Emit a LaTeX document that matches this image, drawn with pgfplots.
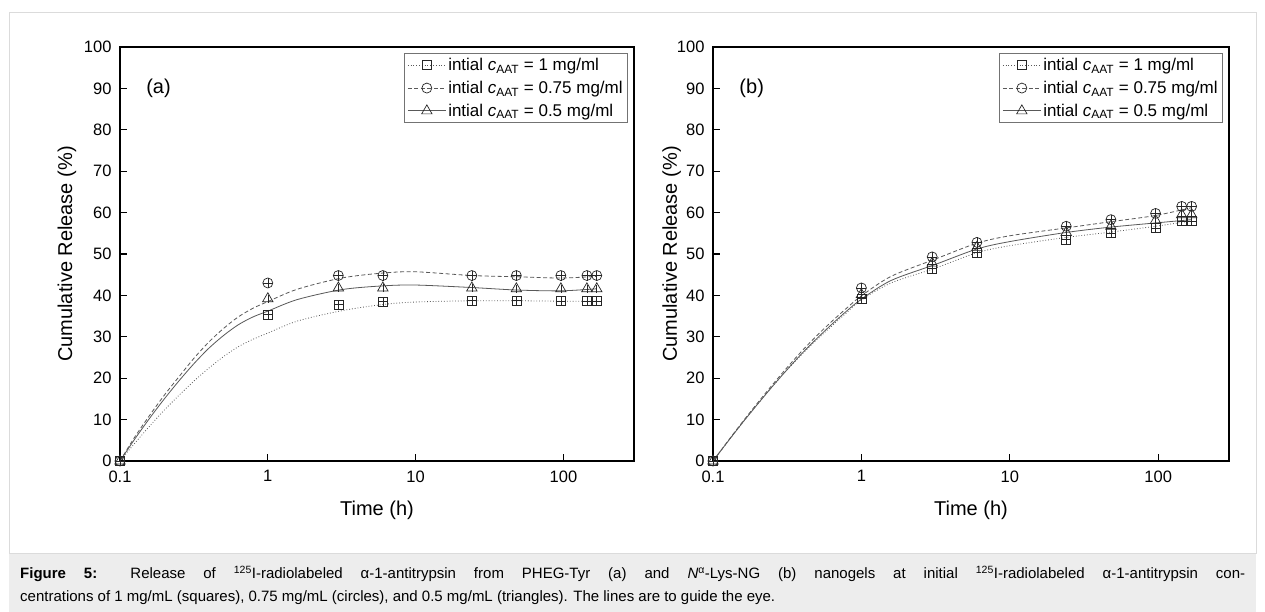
\documentclass[border=0pt]{standalone}
\usepackage{fontspec}
\setmainfont{Liberation Sans}
\usepackage{pgfplots}
\usepackage{pgfplotstable}
\pgfplotsset{compat=1.18}

% ---------- panel (a): measured points ----------
\pgfplotstableread{
x     c1    c075  c05
0.1   0     0     0
1     35.4  43.0  39.2
3     37.8  44.8  41.8
6     38.5  44.8  41.8
24    38.7  44.8  41.8
48    38.7  44.8  41.6
96    38.6  44.8  41.6
144   38.6  44.8  41.6
168   38.6  44.8  41.6
}\ptsA
% ---------- panel (a): guide lines ----------
\pgfplotstableread{
x       c1    c075  c05
0.1     0     0     0
0.1259  4.3   5.8   5.3
0.1585  8.4   11.0  10.3
0.1995  12.3  15.9  15.0
0.2512  15.9  20.4  19.4
0.3162  19.3  24.8  23.5
0.3981  22.4  28.7  27.2
0.5012  25.2  32.0  30.3
0.631   27.6  34.8  32.9
0.7943  29.4  36.9  34.8
1       30.9  38.5  36.2
1.585   33.8  41.5  39.0
3.162   36.3  44.2  41.4
6       37.8  45.4  42.3
10      38.4  45.7  42.5
24      38.7  44.8  41.9
48      38.7  44.5  41.3
96      38.6  44.2  41.1
168     38.6  44.6  41.6
}\lnA
% ---------- panel (b): measured points ----------
\pgfplotstableread{
x     c1    c075  c05
0.1   0     0     0
1     39.2  41.8  40.2
3     46.5  49.3  47.8
6     50.3  52.8  51.6
24    53.5  56.7  55.2
48    55.1  58.3  56.7
96    56.2  59.8  58.1
144   58.0  61.5  59.5
168   58.0  61.5  59.5
}\ptsB
% ---------- panel (b): guide lines ----------
\pgfplotstableread{
x       c1    c075  c05
0.1     0     0     0
0.1259  4.7   4.8   4.7
0.1585  9.3   9.5   9.3
0.1995  13.7  14.0  13.7
0.2512  18.0  18.4  18.0
0.3162  22.0  22.6  22.1
0.3981  25.8  26.6  26.0
0.5012  29.3  30.3  29.6
0.631   32.6  33.7  33.0
0.7943  35.8  36.9  36.2
1       38.9  39.9  39.1
1.585   43.0  44.6  43.6
3.162   46.6  48.8  47.5
6       50.3  52.6  51.2
10      52.0  54.4  53.0
24      54.0  56.3  55.2
48      55.3  57.8  56.5
96      56.7  59.3  57.5
168     58.0  61.2  58.3
}\lnB

\tikzset{
  lsq/.style={color=black!65, line width=0.8pt, dash pattern=on 0.8pt off 2pt},
  lci/.style={color=black!65, line width=0.8pt, dash pattern=on 4pt off 2.5pt},
  ltr/.style={color=black!65, line width=0.8pt, solid},
  mopt/.style={solid, draw=black!85, fill=white, line width=0.7pt},
  popt/.style={solid, draw=black!85, line width=0.6pt},
}

\begin{document}
\begin{tikzpicture}
\path[use as bounding box] (0pt,0pt) rectangle (1265pt,612pt);
\fill[white] (0pt,0pt) rectangle (1265pt,612pt);
\fill[black!7] (9pt,0pt) rectangle (1256pt,58pt);
\draw[black!14, line width=1pt] (9pt,58pt) rectangle (1256pt,599pt);

% ---------------- panel (a) ----------------
\begin{axis}[
    width=514pt, at={(120pt,151pt)}, anchor=south west,
    xmode=log, xmin=0.1, xmax=300, ymin=0, ymax=100,
    scale only axis, height=414pt,
    xtick={0.1,1,10,100}, xticklabels={0.1,1,10,100},
    xminorticks=false, yminorticks=false,
    ytick={0,10,20,30,40,50,60,70,80,90,100},
    tick align=inside, xtick pos=left, ytick pos=left,
    major tick length=7pt,
    major tick style={black, line width=1.2pt},
    axis line style={black, line width=1.3pt},
    /pgf/number format/assume math mode=true,
    tick label style={font=\fontsize{16.5}{19}\selectfont},
    yticklabel style={xshift=-5pt},
    xticklabel style={yshift=-6pt},
    label style={font=\fontsize{20}{24}\selectfont},
    xlabel={Time (h)}, ylabel={Cumulative Release (\%)},
    x label style={at={(axis description cs:0.5,-0.12)},anchor=center},
    y label style={at={(axis description cs:-0.103,0.5)},anchor=center},
    legend style={at={(1,1)}, anchor=north east, xshift=-6pt, yshift=-6pt,
      draw=black!55, line width=0.7pt, font=\fontsize{17}{20}\selectfont,
      inner xsep=3pt, inner ysep=3pt, row sep=5pt},
    legend cell align=left,
    legend image code/.code={\draw[mark repeat=2,mark phase=2] plot coordinates {(0pt,0pt)(19pt,0pt)(38pt,0pt)};},
]
\addlegendimage{lsq, mark=square, mark size=4.5pt, mark options={mopt}}
\addlegendentry{intial \textit{c}\textsubscript{AAT} = 1 mg/ml}
\addlegendimage{lci, mark=o, mark size=5pt, mark options={mopt}}
\addlegendentry{intial \textit{c}\textsubscript{AAT} = 0.75 mg/ml}
\addlegendimage{ltr, mark=triangle, mark size=6pt, mark options={mopt}}
\addlegendentry{intial \textit{c}\textsubscript{AAT} = 0.5 mg/ml}
\addplot[lsq, smooth, tension=0.5, forget plot] table[x=x,y=c1] {\lnA};
\addplot[lci, smooth, tension=0.5, forget plot] table[x=x,y=c075] {\lnA};
\addplot[ltr, smooth, tension=0.5, forget plot] table[x=x,y=c05] {\lnA};
\addplot[only marks, mark=square, mark size=4.5pt, mark options={mopt}, forget plot] table[x=x,y=c1] {\ptsA};
\addplot[only marks, mark=+, mark size=4.5pt, mark options={popt}, forget plot] table[x=x,y=c1] {\ptsA};
\addplot[only marks, mark=o, mark size=5pt, mark options={mopt}, forget plot] table[x=x,y=c075] {\ptsA};
\addplot[only marks, mark=+, mark size=5pt, mark options={popt}, forget plot] table[x=x,y=c075] {\ptsA};
\addplot[only marks, mark=triangle, mark size=6pt, mark options={mopt}, forget plot] table[x=x,y=c05] {\ptsA};
\addplot[only marks, mark=|, mark size=4pt, mark options={popt}, forget plot] table[x=x,y=c05] {\ptsA};
\node[font=\fontsize{20}{24}\selectfont, anchor=center] at (rel axis cs:0.075,0.9) {(a)};
\end{axis}

% ---------------- panel (b) ----------------
\begin{axis}[
    width=516pt, at={(713pt,151pt)}, anchor=south west,
    xmode=log, xmin=0.1, xmax=300, ymin=0, ymax=100,
    scale only axis, height=414pt,
    xtick={0.1,1,10,100}, xticklabels={0.1,1,10,100},
    xminorticks=false, yminorticks=false,
    ytick={0,10,20,30,40,50,60,70,80,90,100},
    tick align=inside, xtick pos=left, ytick pos=left,
    major tick length=7pt,
    major tick style={black, line width=1.2pt},
    axis line style={black, line width=1.3pt},
    /pgf/number format/assume math mode=true,
    tick label style={font=\fontsize{16.5}{19}\selectfont},
    yticklabel style={xshift=-5pt},
    xticklabel style={yshift=-6pt},
    label style={font=\fontsize{20}{24}\selectfont},
    xlabel={Time (h)}, ylabel={Cumulative Release (\%)},
    x label style={at={(axis description cs:0.5,-0.12)},anchor=center},
    y label style={at={(axis description cs:-0.08,0.5)},anchor=center},
    legend style={at={(1,1)}, anchor=north east, xshift=-6pt, yshift=-6pt,
      draw=black!55, line width=0.7pt, font=\fontsize{17}{20}\selectfont,
      inner xsep=3pt, inner ysep=3pt, row sep=5pt},
    legend cell align=left,
    legend image code/.code={\draw[mark repeat=2,mark phase=2] plot coordinates {(0pt,0pt)(19pt,0pt)(38pt,0pt)};},
]
\addlegendimage{lsq, mark=square, mark size=4.5pt, mark options={mopt}}
\addlegendentry{intial \textit{c}\textsubscript{AAT} = 1 mg/ml}
\addlegendimage{lci, mark=o, mark size=5pt, mark options={mopt}}
\addlegendentry{intial \textit{c}\textsubscript{AAT} = 0.75 mg/ml}
\addlegendimage{ltr, mark=triangle, mark size=6pt, mark options={mopt}}
\addlegendentry{intial \textit{c}\textsubscript{AAT} = 0.5 mg/ml}
\addplot[lsq, smooth, tension=0.5, forget plot] table[x=x,y=c1] {\lnB};
\addplot[lci, smooth, tension=0.5, forget plot] table[x=x,y=c075] {\lnB};
\addplot[ltr, smooth, tension=0.5, forget plot] table[x=x,y=c05] {\lnB};
\addplot[only marks, mark=square, mark size=4.5pt, mark options={mopt}, forget plot] table[x=x,y=c1] {\ptsB};
\addplot[only marks, mark=+, mark size=4.5pt, mark options={popt}, forget plot] table[x=x,y=c1] {\ptsB};
\addplot[only marks, mark=triangle, mark size=6pt, mark options={mopt}, forget plot] table[x=x,y=c05] {\ptsB};
\addplot[only marks, mark=|, mark size=4pt, mark options={popt}, forget plot] table[x=x,y=c05] {\ptsB};
\addplot[only marks, mark=o, mark size=5pt, mark options={mopt}, forget plot] table[x=x,y=c075] {\ptsB};
\addplot[only marks, mark=+, mark size=5pt, mark options={popt}, forget plot] table[x=x,y=c075] {\ptsB};
\node[font=\fontsize{20}{24}\selectfont, anchor=center] at (rel axis cs:0.075,0.9) {(b)};
\end{axis}

% ---------------- caption ----------------
\node[anchor=base west, inner sep=0pt, font=\fontsize{15}{18}\selectfont] at (20pt,33pt)
  {\makebox[1225pt][s]{\textbf{Figure 5:} Release of \textsuperscript{125}I-radiolabeled α-1-antitrypsin from PHEG-Tyr (a) and \textit{N}\textsuperscript{α}-Lys-NG (b) nanogels at initial \textsuperscript{125}I-radiolabeled α-1-antitrypsin con-}};
\node[anchor=base west, inner sep=0pt, font=\fontsize{15}{18}\selectfont] at (20pt,10pt)
  {centrations of 1 mg/mL (squares), 0.75 mg/mL (circles), and 0.5 mg/mL (triangles). The lines are to guide the eye.};
\end{tikzpicture}
\end{document}
